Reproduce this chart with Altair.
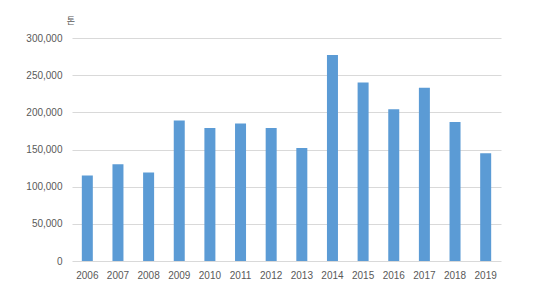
import altair as alt
import pandas as pd

years = ["2006", "2007", "2008", "2009", "2010", "2011", "2012",
         "2013", "2014", "2015", "2016", "2017", "2018", "2019"]
values = [115000, 130000, 119000, 189000, 179000, 185000, 179000,
          152000, 277000, 240000, 204000, 233000, 187000, 145000]
unit_label = ["톤"]

df = pd.DataFrame({"year": years, "value": values})

font = "Liberation Sans"
grey = "#595959"

bars = alt.Chart(df).mark_bar(color="#5b9bd5", size=11).encode(
    x=alt.X("year:N", sort=years, title=None,
            scale=alt.Scale(paddingInner=0.64, paddingOuter=0.32),
            axis=alt.Axis(labelAngle=0, ticks=False, domain=False, grid=False,
                          labelFont=font, labelFontSize=10, labelColor=grey,
                          labelPadding=9)),
    y=alt.Y("value:Q", scale=alt.Scale(domain=[0, 300000]),
            axis=alt.Axis(values=[0, 50000, 100000, 150000, 200000, 250000, 300000],
                          format=",.0f", ticks=False, domain=False,
                          gridColor="#d9d9d9", gridWidth=1,
                          labelFont=font, labelFontSize=10, labelColor=grey,
                          labelPadding=10, title=None)),
)

unit = alt.Chart(pd.DataFrame({"t": unit_label})).mark_text(
    font="Noto Sans CJK KR", fontSize=9, color=grey, align="center", baseline="middle"
).encode(text="t:N", x=alt.value(-1), y=alt.value(-17))

chart = alt.layer(bars, unit).properties(
    width=429, height=223,
    autosize=alt.AutoSizeParams(type="none"),
    padding={"left": 72, "top": 38, "right": 32, "bottom": 38},
    background="white",
).configure_view(stroke=None)

chart.save("out.html", embed_options={"renderer": "svg", "actions": False})
